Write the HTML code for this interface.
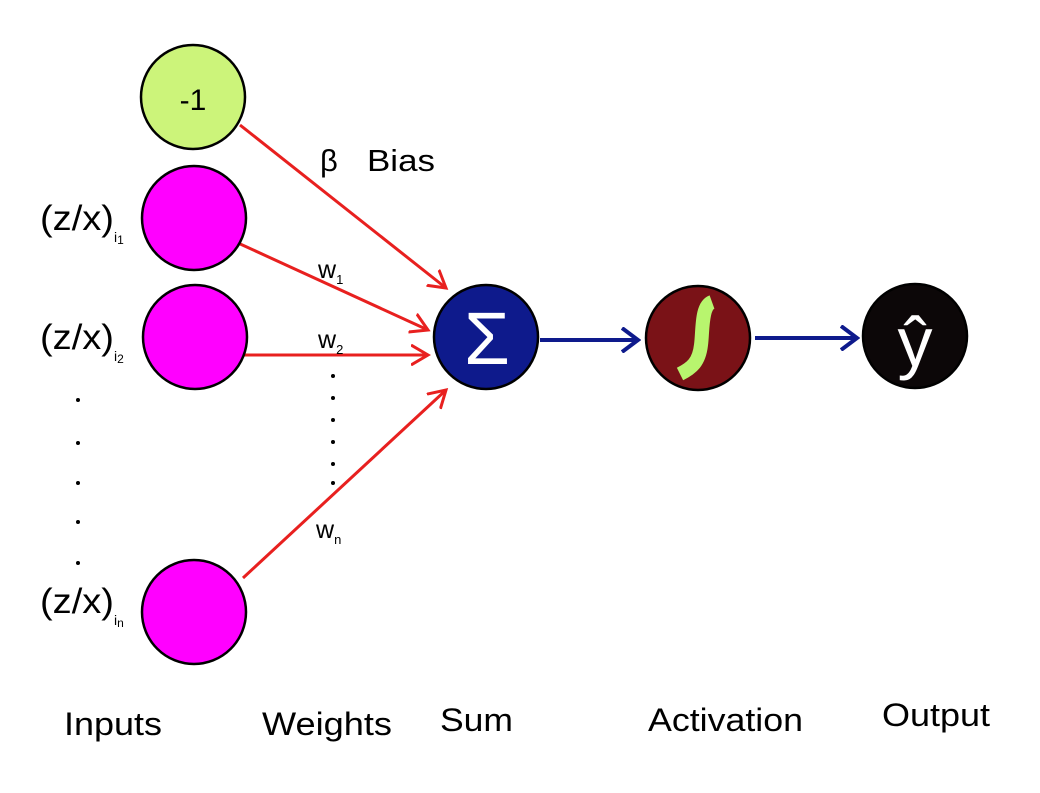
<!DOCTYPE html>
<html><head><meta charset="utf-8"><style>
html,body{margin:0;padding:0;background:#fff;width:1040px;height:793px;overflow:hidden}
text{font-family:"Liberation Sans","DejaVu Sans",sans-serif}
</style></head><body>
<svg width="1040" height="793" viewBox="0 0 1040 793">
<defs>
<marker id="ar" markerWidth="20" markerHeight="22" refX="17" refY="11" orient="auto" markerUnits="userSpaceOnUse"><path d="M0,1 L17,11 L0,21" fill="none" stroke="#e8201f" stroke-width="3"/></marker>
<marker id="ab" markerWidth="20" markerHeight="26" refX="17" refY="13" orient="auto" markerUnits="userSpaceOnUse"><path d="M1,1 L17,13 L1,25" fill="none" stroke="#0e1a8c" stroke-width="4"/></marker>
</defs>
<g stroke="#e8201f" stroke-width="3" marker-end="url(#ar)">
<line x1="240" y1="125" x2="446" y2="288"/>
<line x1="238" y1="243" x2="428" y2="330"/>
<line x1="243" y1="355" x2="428" y2="355"/>
<line x1="243" y1="578" x2="446" y2="390"/>
</g>
<g stroke="#0e1a8c" stroke-width="4" marker-end="url(#ab)">
<line x1="540" y1="340" x2="638" y2="340"/>
<line x1="755" y1="338" x2="857" y2="338"/>
</g>
<g stroke="#000" stroke-width="2.5">
<circle cx="193" cy="97" r="52" fill="#ccf47a"/>
<circle cx="194" cy="218" r="52" fill="#ff00ff"/>
<circle cx="195" cy="337" r="52" fill="#ff00ff"/>
<circle cx="194" cy="612" r="52" fill="#ff00ff"/>
<circle cx="486" cy="337" r="52" fill="#0e1a8c"/>
<circle cx="698" cy="338" r="52" fill="#7a1217"/>
<circle cx="915" cy="336" r="52" fill="#0c0708"/>
</g>
<path d="M712,302 C701,306 703,330 701,345 C699,362 692,368 680,374" fill="none" stroke="#b8f56e" stroke-width="14"/>
<text x="193" y="110" font-size="30" text-anchor="middle">-1</text>
<text x="487" y="364" font-size="74" fill="#fff" text-anchor="middle">Σ</text>
<text x="915" y="366" font-size="70" fill="#fff" text-anchor="middle">ŷ</text>
<g font-size="35" fill="#000">
<text x="40" y="230"><tspan textLength="74" lengthAdjust="spacingAndGlyphs">(z/x)</tspan><tspan font-size="14" dy="12">i</tspan><tspan font-size="12" dy="2">1</tspan></text>
<text x="40" y="349"><tspan textLength="74" lengthAdjust="spacingAndGlyphs">(z/x)</tspan><tspan font-size="14" dy="12">i</tspan><tspan font-size="12" dy="2">2</tspan></text>
<text x="40" y="613"><tspan textLength="74" lengthAdjust="spacingAndGlyphs">(z/x)</tspan><tspan font-size="14" dy="12">i</tspan><tspan font-size="12" dy="2">n</tspan></text>
</g>
<g font-size="31" fill="#000">
<text x="320" y="171">β</text>
<text x="367" y="171" textLength="68" lengthAdjust="spacingAndGlyphs">Bias</text>
</g>
<g font-size="25" fill="#000">
<text x="318" y="278">w<tspan font-size="13" dy="6">1</tspan></text>
<text x="318" y="348">w<tspan font-size="13" dy="6">2</tspan></text>
<text x="316" y="538">w<tspan font-size="13" dy="6">n</tspan></text>
</g>
<g fill="#000">
<circle cx="333" cy="376" r="2"/><circle cx="333" cy="398" r="2"/><circle cx="333" cy="420" r="2"/><circle cx="333" cy="442" r="2"/><circle cx="333" cy="464" r="2"/><circle cx="333" cy="483" r="2"/>
<circle cx="78" cy="400" r="2"/><circle cx="78" cy="443" r="2"/><circle cx="78" cy="483" r="2"/><circle cx="78" cy="522" r="2"/><circle cx="78" cy="563" r="2"/>
</g>
<g font-size="32" fill="#000">
<text x="64" y="735" textLength="98" lengthAdjust="spacingAndGlyphs">Inputs</text>
<text x="262" y="735" textLength="130" lengthAdjust="spacingAndGlyphs">Weights</text>
<text x="440" y="731" textLength="73" lengthAdjust="spacingAndGlyphs">Sum</text>
<text x="648" y="731" textLength="155" lengthAdjust="spacingAndGlyphs">Activation</text>
<text x="882" y="726" textLength="108" lengthAdjust="spacingAndGlyphs">Output</text>
</g>
</svg>
</body></html>
